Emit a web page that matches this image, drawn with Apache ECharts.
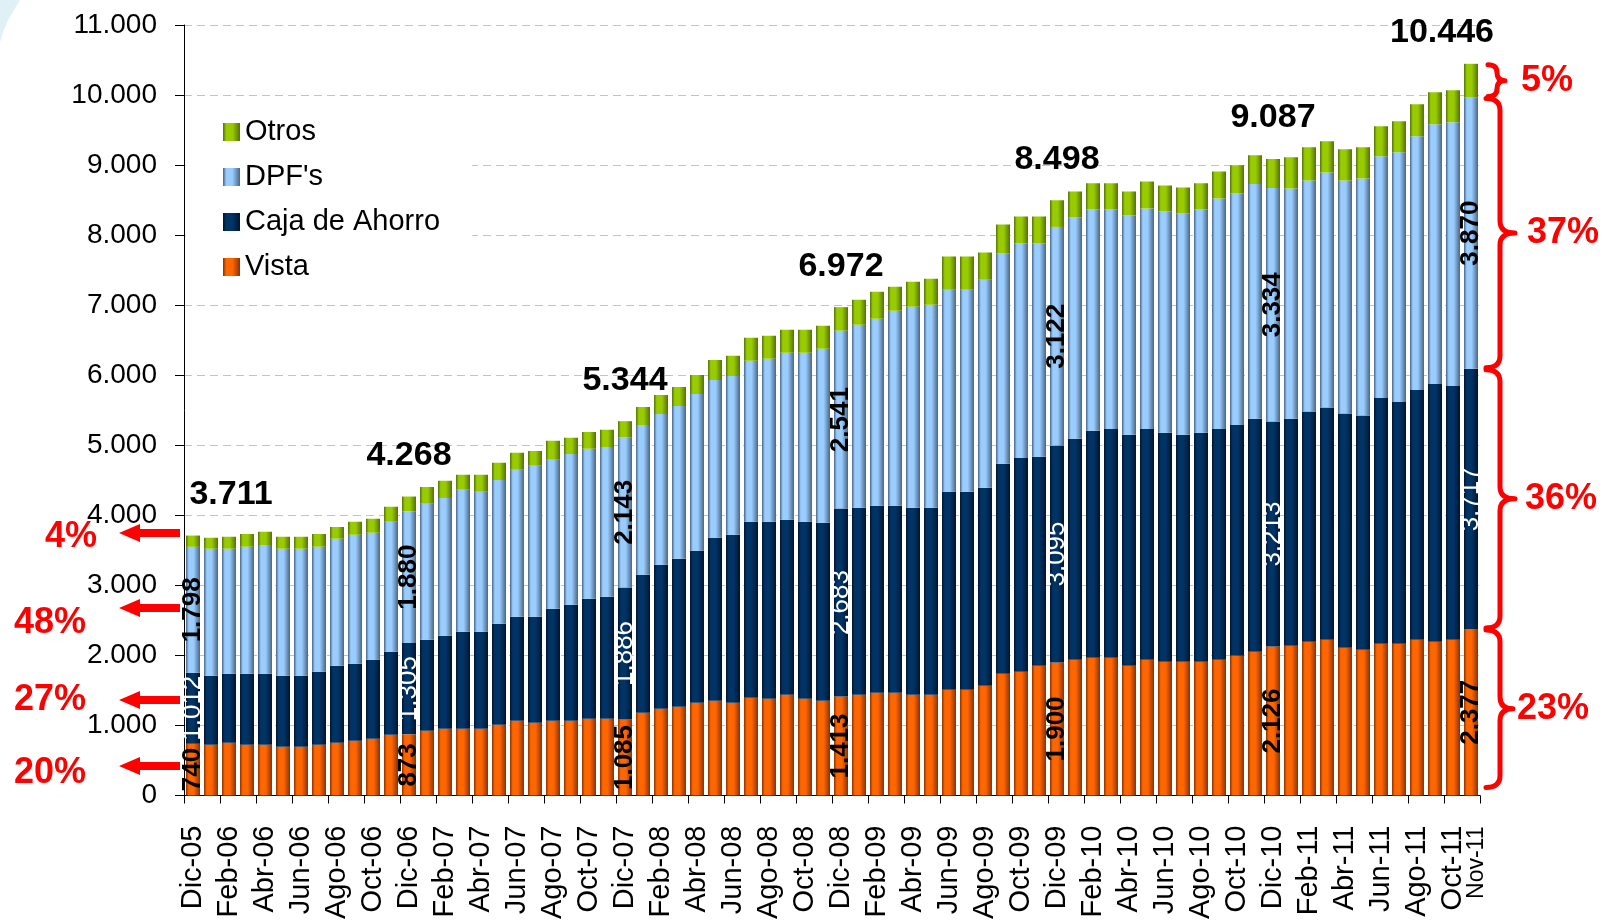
<!DOCTYPE html>
<html>
<head>
<meta charset="utf-8">
<script src="https://cdn.jsdelivr.net/npm/echarts@6/dist/echarts.min.js"></script>
<style>
  html, body { margin: 0; padding: 0; background: #fff; }
  #chart { width: 1605px; height: 924px; }
</style>
</head>
<body>
<div id="chart"></div>
<script>
// Monthly deposits by type (millions), Dic-05 .. Nov-11
const months = [
  'Dic-05',
  'Ene-06','Feb-06','Mar-06','Abr-06','May-06','Jun-06','Jul-06','Ago-06','Sep-06','Oct-06','Nov-06','Dic-06',
  'Ene-07','Feb-07','Mar-07','Abr-07','May-07','Jun-07','Jul-07','Ago-07','Sep-07','Oct-07','Nov-07','Dic-07',
  'Ene-08','Feb-08','Mar-08','Abr-08','May-08','Jun-08','Jul-08','Ago-08','Sep-08','Oct-08','Nov-08','Dic-08',
  'Ene-09','Feb-09','Mar-09','Abr-09','May-09','Jun-09','Jul-09','Ago-09','Sep-09','Oct-09','Nov-09','Dic-09',
  'Ene-10','Feb-10','Mar-10','Abr-10','May-10','Jun-10','Jul-10','Ago-10','Sep-10','Oct-10','Nov-10','Dic-10',
  'Ene-11','Feb-11','Mar-11','Abr-11','May-11','Jun-11','Jul-11','Ago-11','Sep-11','Oct-11','Nov-11'
];

const vista = [
  740, 724, 752, 724, 724, 695, 695, 724, 752, 781, 809, 866,
  873, 924, 952, 952, 952, 1009, 1066, 1038, 1066, 1066, 1095, 1095,
  1085, 1180, 1238, 1266, 1323, 1352, 1323, 1395, 1380, 1437, 1380, 1352,
  1413, 1437, 1466, 1466, 1437, 1437, 1509, 1509, 1566, 1737, 1766, 1851,
  1900, 1937, 1966, 1966, 1851, 1937, 1908, 1908, 1908, 1937, 1994, 2051,
  2126, 2137, 2194, 2222, 2108, 2080, 2165, 2165, 2222, 2194, 2222, 2377
];
const caja = [
  1012, 985, 985, 1013, 1013, 1014, 1014, 1042, 1099, 1099, 1128, 1185,
  1305, 1298, 1328, 1385, 1385, 1442, 1485, 1513, 1599, 1656, 1713, 1741,
  1886, 1970, 2055, 2113, 2170, 2326, 2398, 2512, 2527, 2498, 2527, 2541,
  2683, 2670, 2669, 2669, 2670, 2670, 2826, 2826, 2826, 2998, 3054, 2984,
  3095, 3155, 3240, 3268, 3298, 3297, 3269, 3241, 3269, 3297, 3297, 3326,
  3213, 3240, 3289, 3318, 3347, 3346, 3511, 3453, 3568, 3682, 3625, 3717
];
const dpf = [
  1798, 1812, 1784, 1813, 1841, 1812, 1812, 1784, 1813, 1841, 1813, 1856,
  1880, 1942, 1969, 2027, 1998, 2055, 2098, 2155, 2127, 2155, 2141, 2141,
  2143, 2141, 2154, 2182, 2240, 2255, 2269, 2298, 2327, 2385, 2413, 2484,
  2541, 2613, 2671, 2786, 2871, 2900, 2886, 2886, 2972, 3002, 3060, 3045,
  3122, 3160, 3160, 3132, 3132, 3147, 3161, 3160, 3189, 3290, 3304, 3352,
  3334, 3290, 3298, 3356, 3326, 3384, 3449, 3564, 3621, 3707, 3765, 3870
];
const otros = [
  161, 157, 172, 185, 186, 172, 172, 185, 171, 186, 200, 214,
  210, 242, 243, 214, 243, 243, 243, 214, 271, 229, 242, 243,
  230, 256, 271, 272, 272, 286, 287, 329, 329, 329, 329, 329,
  335, 358, 387, 343, 358, 372, 473, 473, 387, 415, 386, 386,
  381, 372, 373, 373, 343, 386, 372, 372, 373, 386, 401, 410,
  414, 444, 473, 444, 444, 444, 429, 444, 458, 458, 458, 482
];

// months with value labels
const labelled = [0, 12, 24, 36, 48, 60, 71];
// share of each type in the first and last month
const sharesStart = ['4%', '48%', '27%', '20%'];
const sharesEnd = ['5%', '37%', '36%', '23%'];

const totals = months.map((m, i) => vista[i] + caja[i] + dpf[i] + otros[i]);
const fmt = v => String(v).replace(/\B(?=(\d{3})+(?!\d))/g, '.');
const FONT = '"Liberation Sans", Arial, sans-serif';

// curly brace shape for the right-hand annotations
echarts.graphic.registerShape('brace', echarts.graphic.extendShape({
  shape: { y1: 0, y2: 0, ends: 0, spine: 0, tip: 0 },
  buildPath: function (ctx, s) {
    const ym = (s.y1 + s.y2) / 2;
    const r = Math.min(12, (s.y2 - s.y1) / 4);
    ctx.moveTo(s.ends, s.y1);
    ctx.quadraticCurveTo(s.spine, s.y1, s.spine, s.y1 + r);
    ctx.lineTo(s.spine, ym - r);
    ctx.quadraticCurveTo(s.spine, ym, s.tip, ym);
    ctx.quadraticCurveTo(s.spine, ym, s.spine, ym + r);
    ctx.lineTo(s.spine, s.y2 - r);
    ctx.quadraticCurveTo(s.spine, s.y2, s.ends, s.y2);
  }
}));

function barFill(light, dark) {
  return new echarts.graphic.LinearGradient(0, 0, 1, 0, [
    { offset: 0, color: dark },
    { offset: 0.2, color: light },
    { offset: 0.55, color: light },
    { offset: 1, color: dark }
  ]);
}

function segmentSeries(name, values, light, dark, labelColor, weight) {
  return {
    name: name,
    type: 'bar',
    stack: 'total',
    barWidth: 14,
    itemStyle: { color: barFill(light, dark) },
    label: {
      show: false,
      position: 'inside',
      rotate: 90,
      color: labelColor,
      fontSize: 26,
      fontWeight: weight,
      fontFamily: FONT,
      formatter: p => fmt(p.value)
    },
    data: values.map((v, i) => labelled.includes(i) ? { value: v, label: { show: true } } : v)
  };
}

// total label nudges (first and last are moved to stay readable)
const totalOffset = { 0: [38, 0], 71: [-29, 10] };

const otrosSeries = segmentSeries('Otros', otros, '#99cc00', '#55700a', '#000', 'bold');
otrosSeries.data = otros.map((v, i) => labelled.includes(i) ? {
  value: v,
  label: {
    show: true,
    position: 'top',
    rotate: 0,
    distance: 24,
    offset: totalOffset[i] || [0, 0],
    fontSize: 34,
    fontWeight: 'bold',
    color: '#000',
    formatter: () => fmt(totals[i])
  }
} : v);

const chart = echarts.init(document.getElementById('chart'));

chart.setOption({
  animation: false,
  backgroundColor: '#fff',
  textStyle: { fontFamily: FONT },
  grid: { left: 184, right: 125, top: 25, bottom: 128.5 },
  legend: {
    data: ['Otros', "DPF's", 'Caja de Ahorro', 'Vista'],
    orient: 'vertical',
    left: 186,
    top: 105,
    padding: [12, 32, 12, 37],
    backgroundColor: '#fff',
    itemWidth: 17,
    itemHeight: 18,
    itemGap: 15,
    icon: 'rect',
    textStyle: { fontSize: 29, color: '#000', fontFamily: FONT, lineHeight: 30 }
  },
  xAxis: {
    type: 'category',
    data: months,
    axisLine: { lineStyle: { color: '#000', width: 1 } },
    axisTick: { show: true, interval: 1, length: 8, lineStyle: { color: '#000' } },
    axisLabel: {
      rotate: 90,
      margin: 30,
      fontSize: 29,
      color: '#000',
      fontFamily: FONT,
      interval: 1
    }
  },
  yAxis: {
    type: 'value',
    min: 0,
    max: 11000,
    interval: 1000,
    axisLine: { show: true, lineStyle: { color: '#000', width: 1 } },
    axisTick: { show: true, length: 9, lineStyle: { color: '#000' } },
    axisLabel: { fontSize: 28, color: '#000', margin: 27, fontFamily: FONT, formatter: v => fmt(v) },
    splitLine: { lineStyle: { color: '#c4c4c4', type: [8, 5], width: 1 } }
  },
  series: [
    segmentSeries('Vista', vista, '#ff6600', '#8a3300', '#000', 'bold'),
    segmentSeries('Caja de Ahorro', caja, '#003366', '#00152b', '#fff', 'normal'),
    segmentSeries("DPF's", dpf, '#99ccff', '#4a6684', '#000', 'bold'),
    otrosSeries
  ]
});

// red annotations: arrows on the left, braces on the right
const red = '#ff0000';
const yPix = v => chart.convertToPixel({ yAxisIndex: 0 }, v);
const xPix = c => chart.convertToPixel({ xAxisIndex: 0 }, c);
const graphics = [];

graphics.push({
  type: 'polygon', silent: true,
  shape: { points: [[0, 0], [20, 0], [14, 10], [8, 20], [3, 32], [0, 42]] },
  style: { fill: '#dff0f7' }
});

// last month label sits next to the every-other-month labels, in a smaller size
const last = months.length - 1;
graphics.push({
  type: 'text', x: xPix(months[last]) + 6, y: yPix(0) + 31, rotation: Math.PI / 2,
  style: { text: months[last], fill: '#000', font: '23px ' + FONT, align: 'right', verticalAlign: 'middle' }
});

const arrowY = [533, 608, 700, 766];
const arrowTextX = [45, 14, 14, 14];
const arrowTextY = [537, 623, 700, 773];
arrowY.forEach((y, k) => {
  graphics.push({
    type: 'polygon', z: 10,
    shape: { points: [[180, y - 4], [140, y - 4], [140, y - 9], [119, y], [140, y + 9], [140, y + 4], [180, y + 4]] },
    style: { fill: red }
  });
  graphics.push({
    type: 'text', x: arrowTextX[k], y: arrowTextY[k], z: 10,
    style: { text: sharesStart[k], fill: red, font: 'bold 36px ' + FONT, verticalAlign: 'middle' }
  });
});

const b1 = vista[last];
const b2 = b1 + caja[last];
const b3 = b2 + dpf[last];
const b4 = b3 + otros[last];
const braces = [
  { lo: b3, hi: b4, tx: 1521, ends: 1488, spine: 1497, tip: 1505 },
  { lo: b2, hi: b3, tx: 1527, ends: 1486, spine: 1500, tip: 1515 },
  { lo: b1, hi: b2, tx: 1525, ends: 1486, spine: 1500, tip: 1515 },
  { lo: 0, hi: b1, tx: 1517, ends: 1486, spine: 1500, tip: 1513 }
];
braces.forEach((b, k) => {
  const y1 = yPix(b.hi) + 1;
  const y2 = b.lo === 0 ? yPix(b.lo) - 8 : yPix(b.lo) - 1;
  graphics.push({
    type: 'brace', z: 10,
    shape: { y1: y1, y2: y2, ends: b.ends, spine: b.spine, tip: b.tip },
    style: { stroke: red, lineWidth: 5, fill: null, lineCap: 'round', lineJoin: 'round' }
  });
  graphics.push({
    type: 'text', x: b.tx, y: (y1 + y2) / 2, z: 10,
    style: { text: sharesEnd[k], fill: red, font: 'bold 36px ' + FONT, verticalAlign: 'middle' }
  });
});

chart.setOption({ graphic: graphics });
</script>
</body>
</html>
